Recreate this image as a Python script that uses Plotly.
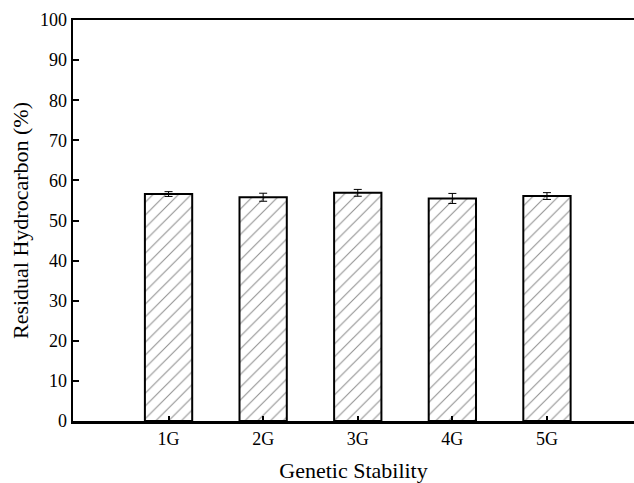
import plotly.graph_objects as go

categories = ["1G", "2G", "3G", "4G", "5G"]
positions = [1, 2, 3, 4, 5]
values = [56.6, 55.8, 56.9, 55.5, 56.1]
errors = [0.6, 1.0, 0.85, 1.25, 0.85]
yticks = [0, 10, 20, 30, 40, 50, 60, 70, 80, 90, 100]

FONT = "Liberation Serif, Times New Roman, serif"

fig = go.Figure()
fig.add_trace(go.Bar(
    x=positions, y=values, width=0.5,
    marker=dict(
        color="white",
        line=dict(color="black", width=2),
        pattern=dict(shape="/", size=9, solidity=0.12, fgcolor="#222", bgcolor="white"),
    ),
    error_y=dict(type="data", array=errors, visible=True, color="black", thickness=1, width=4),
    showlegend=False,
    hoverinfo="skip",
))

fig.update_layout(
    width=634, height=483,
    margin=dict(l=73, r=0, t=20, b=62, autoexpand=False),
    plot_bgcolor="white", paper_bgcolor="white",
    font=dict(family=FONT, color="black", size=18),
    bargap=0,
)
fig.update_xaxes(
    range=[-0.01, 5.92],
    tickvals=positions, ticktext=categories,
    ticks="inside", ticklen=5, tickwidth=2, tickcolor="black",
    showline=True, linecolor="black", linewidth=2.5, mirror=True,
    showgrid=False, zeroline=False,
    tickfont=dict(size=18, family=FONT),
    title=dict(text="Genetic Stability", font=dict(size=22, family=FONT), standoff=15),
)
fig.update_yaxes(
    range=[0, 100],
    tickvals=yticks,
    ticks="inside", ticklen=6, tickwidth=2, tickcolor="black",
    showline=True, linecolor="black", linewidth=2.5, mirror=False,
    showgrid=False, zeroline=False,
    tickfont=dict(size=18, family=FONT),
    title=dict(text="Residual Hydrocarbon (%)", font=dict(size=22, family=FONT), standoff=5),
)

fig.write_html(
    "out.html",
    config={"displayModeBar": False, "staticPlot": True},
    post_script="document.body.style.margin='0';document.body.style.overflow='hidden';",
)
